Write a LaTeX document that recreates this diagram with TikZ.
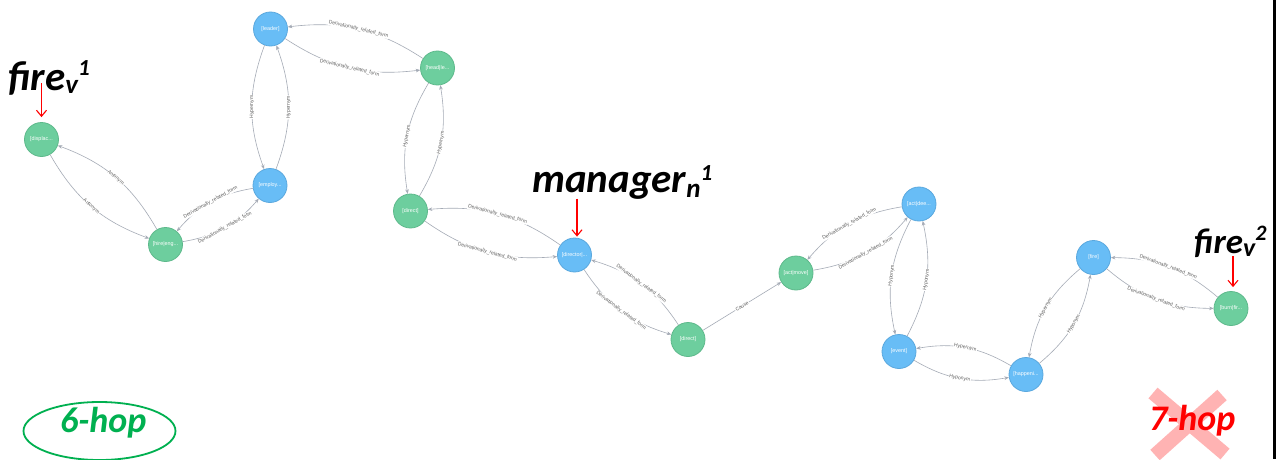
\documentclass[tikz,border=0pt]{standalone}
\usepackage{fontspec}
\setmainfont{Liberation Sans}
\newfontfamily\calib{Carlito}
\usetikzlibrary{arrows.meta}

\definecolor{ngreen}{HTML}{6DCE9E}
\definecolor{ngreenb}{HTML}{5DB98B}
\definecolor{nblue}{HTML}{68BDF6}
\definecolor{nblueb}{HTML}{5AA8DE}
\definecolor{edgegray}{HTML}{A5ABB6}
\definecolor{labgray}{HTML}{606060}
\definecolor{hopgreen}{HTML}{00B050}
\definecolor{crosspink}{HTML}{FFB3B3}

\begin{document}
\begin{tikzpicture}[x=1pt,y=1pt,
  ent/.style={circle, minimum size=34pt, inner sep=0pt, line width=0.8pt,
    text=white, font=\fontsize{5.4}{5.4}\selectfont},
  gnode/.style={ent, fill=ngreen, draw=ngreenb},
  bnode/.style={ent, fill=nblue, draw=nblueb},
  rel/.style={draw=edgegray, line width=0.6pt,
    -{Stealth[length=4.5pt,width=3.6pt]}, bend right=20},
  straightrel/.style={draw=edgegray, line width=0.6pt,
    -{Stealth[length=4.5pt,width=3.6pt]}},
  rlab/.style={midway, sloped, fill=white, inner sep=0.6pt, text=labgray,
    font=\fontsize{5}{5}\selectfont},
  pointer/.style={draw=red, line width=1.1pt,
    -{Straight Barb[length=6pt,width=10pt]}},
  sense/.style={anchor=base west, inner sep=0pt,
    font=\calib\bfseries\itshape\fontsize{41}{41}\selectfont},
  hop/.style={anchor=base west, inner sep=0pt,
    font=\calib\bfseries\itshape\fontsize{36}{36}\selectfont},
]
\useasboundingbox (0,0) rectangle (1281,459);
\fill[white] (0,0) rectangle (1281,459);
\fill[black] (1272.7,0) rectangle (1275.7,459);

% entity nodes
\node[gnode] (displac)  at (41.5,319.5) {[displac...};
\node[gnode] (hire)     at (165.5,214.5) {[hire|eng...};
\node[bnode] (employ)   at (270,273.5)  {[employ...};
\node[bnode] (leader)   at (270.5,430)  {[leader]};
\node[gnode] (head)     at (437.5,391)  {[head|le...};
\node[gnode] (directa)  at (410.5,248)  {[direct]};
\node[bnode] (director) at (574.5,204)  {[director|...};
\node[gnode] (directb)  at (688,119.5)  {[direct]};
\node[gnode] (actmove)  at (796,186)    {[act|move]};
\node[bnode] (actdee)   at (919,255)    {[act|dee...};
\node[bnode] (event)    at (899,107.5)  {[event]};
\node[bnode] (happen)   at (1026,84.5)  {[happeni...};
\node[bnode] (fire)     at (1093.5,201.5) {[fire]};
\node[gnode] (burn)     at (1231,150.5) {[burn|fir...};

% relations
\draw[rel] (displac) to node[rlab]{Antonym} (hire);
\draw[rel] (hire) to node[rlab]{Antonym} (displac);
\draw[rel] (hire) to node[rlab]{Derivationally\_related\_form} (employ);
\draw[rel] (employ) to node[rlab]{Derivationally\_related\_form} (hire);
\draw[rel] (employ) to node[rlab]{Hypernym} (leader);
\draw[rel] (leader) to node[rlab]{Hypernym} (employ);
\draw[rel] (leader) to node[rlab]{Derivationally\_related\_form} (head);
\draw[rel] (head) to node[rlab]{Derivationally\_related\_form} (leader);
\draw[rel] (head) to node[rlab]{Hypernym} (directa);
\draw[rel] (directa) to node[rlab]{Hypernym} (head);
\draw[rel] (directa) to node[rlab]{Derivationally\_related\_form} (director);
\draw[rel] (director) to node[rlab]{Derivationally\_related\_form} (directa);
\draw[rel] (director) to node[rlab]{Derivationally\_related\_form} (directb);
\draw[rel] (directb) to node[rlab]{Derivationally\_related\_form} (director);
\draw[straightrel] (directb) -- node[rlab]{Cause} (actmove);
\draw[rel] (actmove) to node[rlab]{Derivationally\_related\_form} (actdee);
\draw[rel] (actdee) to node[rlab]{Derivationally\_related\_form} (actmove);
\draw[rel] (actdee) to node[rlab]{Hyponym} (event);
\draw[rel] (event) to node[rlab]{Hyponym} (actdee);
\draw[rel] (event) to node[rlab]{Hyponym} (happen);
\draw[rel] (happen) to node[rlab]{Hypernym} (event);
\draw[rel] (happen) to node[rlab]{Hyponym} (fire);
\draw[rel] (fire) to node[rlab]{Hypernym} (happen);
\draw[rel] (fire) to node[rlab]{Derivationally\_related\_form} (burn);
\draw[rel] (burn) to node[rlab]{Derivationally\_related\_form} (fire);

% word-sense labels with pointers
\node[sense] (senseA) at (8,369)
  {fire\raisebox{-3pt}{\fontsize{27}{27}\selectfont v}\raisebox{15pt}{\fontsize{23}{23}\selectfont 1}};
\coordinate (ptrA) at ([yshift=39pt]displac.north);
\draw[pointer] (ptrA) -- ([yshift=5pt]displac.north);

\node[sense] (senseB) at (532,267)
  {manager\raisebox{-5pt}{\fontsize{27}{27}\selectfont n}\raisebox{12pt}{\fontsize{23}{23}\selectfont 1}};
\coordinate (ptrB) at ([xshift=2.5pt,yshift=39pt]director.north);
\draw[pointer] (ptrB) -- ([xshift=2.5pt,yshift=1pt]director.north);

\node[sense, font=\calib\bfseries\itshape\fontsize{35}{35}\selectfont] (senseC) at (1194,206)
  {fire\raisebox{-3pt}{\fontsize{26}{26}\selectfont v}\raisebox{13pt}{\fontsize{22}{22}\selectfont 2}};
\coordinate (ptrC) at ([xshift=2pt,yshift=35pt]burn.north);
\draw[pointer] (ptrC) -- ([xshift=2pt,yshift=4pt]burn.north);

% hop counts
\draw[hopgreen, line width=1.8pt] (99.5,28) ellipse [x radius=76, y radius=29];
\node[hop, text=hopgreen] (hopA) at (60,27) {6-hop};

\draw[crosspink, line width=14pt] (1153,66) -- (1225,5);
\draw[crosspink, line width=14pt] (1222,64) -- (1155,4);
\node[hop, text=red] (hopB) at (1149,29) {7-hop};
\end{tikzpicture}
\end{document}
